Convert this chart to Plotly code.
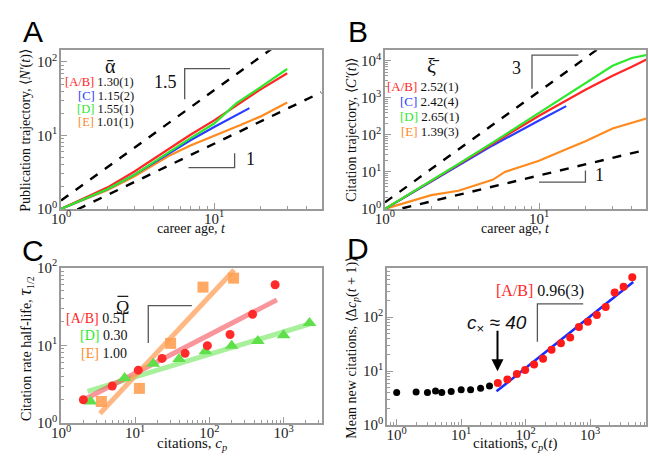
import plotly.graph_objects as go

W, H = 648, 460

def px(x):
    return x / W

def py(y):
    return 1 - y / H

# ---------------- DATA ----------------
# Panel A: publication trajectory
tA_ab = [1, 2, 3, 5, 7, 10, 15, 20, 30]
nA_ab = [1, 1.95, 3.2, 6.5, 10.2, 16, 28, 42, 70]
tA_c = [1, 2, 3, 5, 7, 10, 13, 17]
nA_c = [1, 1.85, 2.9, 5.5, 8.6, 13, 17.5, 23.5]
tA_d = [1, 2, 3, 5, 7, 10, 14, 20, 30]
nA_d = [1, 1.85, 2.9, 5.8, 9.2, 14.5, 27.5, 45, 80]
tA_e = [1, 2, 3, 5, 7, 10, 15, 20, 30]
nA_e = [1, 1.8, 2.75, 5.2, 7.3, 9.8, 14, 18, 28]
guideA_hi_t = [1, 50]
guideA_hi_n = [1.3, 460]
guideA_lo_t = [1, 50]
guideA_lo_n = [0.77, 38.5]
slopeA1_t = [12.7, 6.42, 6.42]
slopeA1_n = [81, 81, 31]
slopeA2_t = [6.8, 13.6, 13.6]
slopeA2_n = [3.65, 3.65, 5.7]

# Panel B: citation trajectory
tB_ab = [1, 2, 3, 5, 10, 20, 30, 40, 50]
cB_ab = [1, 5.7, 16, 58, 330, 1660, 4000, 7000, 11000]
tB_c = [1, 2, 3, 5, 10, 15]
cB_c = [1, 5.5, 15, 52, 245, 600]
tB_d = [1, 2, 3, 5, 10, 20, 30, 40, 50]
cB_d = [1, 5.7, 16.5, 62, 400, 2500, 7400, 12000, 14500]
tB_e = [1, 2, 3, 4, 5, 6, 10, 15, 20, 30, 50]
cB_e = [1, 2.35, 3.1, 4.5, 6.1, 10, 20, 41, 67, 150, 280]
guideB_hi_t = [1, 50]
guideB_hi_c = [1.5, 187500]
guideB_lo_t = [1, 50]
guideB_lo_c = [0.8, 40]
slopeB1_t = [18, 9.0, 9.0]
slopeB1_c = [14300, 14300, 1770]
slopeB2_t = [10, 20, 20]
slopeB2_c = [5.3, 5.3, 11]

# Panel C: citation half-life
cC_ab = [2, 4.9, 11, 23, 47, 94, 190, 382, 770]
tauC_ab = [2, 3, 4.8, 6.8, 7.9, 9.9, 13.8, 25, 60]
cC_d = [2.5, 7.2, 17.5, 39, 88.5, 200, 450, 1000, 2240]
tauC_d = [1.9, 3.8, 5.8, 6.7, 8.4, 9.9, 11.4, 13.5, 19.4]
cC_e = [3.5, 11.4, 30, 82, 212]
tauC_e = [1.9, 2.8, 10.6, 56, 73]
fitC_ab_c = [1.92, 813]
fitC_ab_tau = [1.94, 38.4]
fitC_d_c = [2.28, 2240]
fitC_d_tau = [2.57, 18.8]
fitC_e_c = [3.35, 216]
fitC_e_tau = [1.33, 92.7]
slopeC_c = [58, 15, 15]
slopeC_tau = [32.4, 32.4, 10.7]

# Panel D: preferential attachment
cD_low = [1, 2, 3, 4, 5, 7, 10, 14, 20, 27.5]
dD_low = [4.0, 4.1, 4.0, 4.3, 4.0, 4.2, 4.5, 4.5, 4.8, 5.3]
cD_high = [37, 52, 73, 98, 135, 186, 252, 352, 490, 670, 920, 1270, 1740, 2400, 3300, 4500]
dD_high = [6.0, 7.0, 8.8, 10.5, 13.2, 17, 25, 33, 42, 66, 82, 110, 155, 285, 365, 550]
fitD_c = [35.3, 4656]
fitD_d = [4.22, 447]
slopeD_c = [780, 152, 152]
slopeD_d = [177, 177, 35]

legA = [("[A/B]", "1.30(1)"), ("[C]", "1.15(2)"), ("[D]", "1.55(1)"), ("[E]", "1.01(1)")]
legB = [("[A/B]", "2.52(1)"), ("[C]", "2.42(4)"), ("[D]", "2.65(1)"), ("[E]", "1.39(3)")]
legC = [("[A/B]", "0.51"), ("[D]", "0.30"), ("[E]", "1.00")]

# ---------------- STYLE ----------------
RED = "#ff2626"
BLUE = "#2a3cff"
GREEN = "#2ee82e"
ORANGE = "#ff8a1e"
SERIF = "Liberation Serif, Times New Roman, serif"
SANS = "Liberation Sans, Arial, sans-serif"
AXC = "#9a9a9a"

fig = go.Figure()

def line(x, y, color, xa, ya, width=2.2, dash=None, opacity=1):
    fig.add_trace(go.Scatter(x=x, y=y, mode="lines", xaxis=xa, yaxis=ya,
                             line=dict(color=color, width=width, dash=dash),
                             opacity=opacity, hoverinfo="skip", showlegend=False))

def bracket(x, y, xa, ya):
    fig.add_trace(go.Scatter(x=x, y=y, mode="lines", xaxis=xa, yaxis=ya,
                             line=dict(color="#555555", width=1.3),
                             hoverinfo="skip", showlegend=False))

def markers(x, y, color, symbol, size, xa, ya, opacity=1):
    fig.add_trace(go.Scatter(x=x, y=y, mode="markers", xaxis=xa, yaxis=ya,
                             marker=dict(color=color, symbol=symbol, size=size,
                                         line=dict(width=0)),
                             opacity=opacity, hoverinfo="skip", showlegend=False))

# Panel A
line(guideA_hi_t, guideA_hi_n, "black", "x", "y", width=2.4, dash="dash")
line(guideA_lo_t, guideA_lo_n, "black", "x", "y", width=2.4, dash="dash")
line(tA_e, nA_e, ORANGE, "x", "y")
line(tA_c, nA_c, BLUE, "x", "y")
line(tA_ab, nA_ab, RED, "x", "y")
line(tA_d, nA_d, GREEN, "x", "y")
bracket(slopeA1_t, slopeA1_n, "x", "y")
bracket(slopeA2_t, slopeA2_n, "x", "y")

# Panel B
line(guideB_hi_t, guideB_hi_c, "black", "x2", "y2", width=2.4, dash="dash")
line(guideB_lo_t, guideB_lo_c, "black", "x2", "y2", width=2.4, dash="dash")
line(tB_e, cB_e, ORANGE, "x2", "y2")
line(tB_c, cB_c, BLUE, "x2", "y2")
line(tB_ab, cB_ab, RED, "x2", "y2")
line(tB_d, cB_d, GREEN, "x2", "y2")
bracket(slopeB1_t, slopeB1_c, "x2", "y2")
bracket(slopeB2_t, slopeB2_c, "x2", "y2")

# Panel C
line(fitC_d_c, fitC_d_tau, "rgba(110,230,90,0.6)", "x3", "y3", width=5)
line(fitC_ab_c, fitC_ab_tau, "rgba(245,80,90,0.6)", "x3", "y3", width=5)
line(fitC_e_c, fitC_e_tau, "rgba(255,160,90,0.75)", "x3", "y3", width=5)
markers(cC_d, tauC_d, "#5fe04a", "triangle-up", 12, "x3", "y3")
markers(cC_ab, tauC_ab, "#ff2a2a", "circle", 9, "x3", "y3")
markers(cC_e, tauC_e, "#ffa055", "square", 11, "x3", "y3", opacity=0.9)
bracket(slopeC_c, slopeC_tau, "x3", "y3")

# Panel D
line(fitD_c, fitD_d, "#1a2cff", "x4", "y4", width=2.6)
markers(cD_low, dD_low, "black", "circle", 7, "x4", "y4")
markers(cD_high, dD_high, "#ff1a1a", "circle", 8, "x4", "y4")
bracket(slopeD_c, slopeD_d, "x4", "y4")

# ---------------- AXES ----------------
def sup_labels(exps):
    return [10 ** e for e in exps], ["10<sup>%d</sup>" % e for e in exps]

def minor_vals(lo, hi):
    vals = []
    for e in range(lo, hi):
        for m in range(2, 10):
            vals.append(m * 10 ** e)
    return vals

def axis(domain, rng, exps, mlo, mhi, anchor, standoff):
    tv, tt = sup_labels(exps)
    return dict(type="log", domain=domain, range=rng, anchor=anchor,
                tickvals=tv, ticktext=tt, ticks="inside", ticklen=6,
                tickcolor=AXC, tickwidth=1, showline=True, linecolor=AXC,
                linewidth=1.5, mirror=True, showgrid=False, zeroline=False,
                ticklabelstandoff=standoff,
                tickfont=dict(family=SERIF, size=15, color="#222"),
                minor=dict(tickvals=minor_vals(mlo, mhi), ticks="inside",
                           ticklen=3, tickcolor=AXC, showgrid=False))

XS, YS = -5, -1
fig.update_layout(
    xaxis=axis([px(52), px(318)], [0, 1.705], [0, 1], 0, 2, "y", XS),
    yaxis=axis([py(207), py(42)], [0, 2.157], [0, 1, 2], 0, 3, "x", YS),
    xaxis2=axis([px(382), 1.0], [0, 1.694], [0, 1], 0, 2, "y2", XS),
    yaxis2=axis([py(207), py(42)], [0, 4.286], [0, 1, 2, 3, 4], 0, 5, "x2", YS),
    xaxis3=axis([px(52), px(318)], [0, 3.52], [0, 1, 2, 3], 0, 4, "y3", XS),
    yaxis3=axis([py(430), py(268)], [0, 2.0], [0, 1, 2], 0, 2, "x3", YS),
    xaxis4=axis([px(384), 1.0], [-0.152, 3.866], [0, 1, 2, 3], -1, 4, "y4", XS),
    yaxis4=axis([py(432), py(268)], [0, 2.92], [0, 1, 2], 0, 3, "x4", YS),
)

ann = []

def text(x, y, s, size=13, xanchor="center", family=SERIF, angle=0, color="#111"):
    ann.append(dict(x=px(x), y=py(y), xref="paper", yref="paper", text=s,
                    showarrow=False, xanchor=xanchor, yanchor="middle",
                    textangle=angle, font=dict(family=family, size=size, color=color)))

# Panel letters
text(23, 22, "A", size=30, family=SANS, color="black")
text(355, 22, "B", size=30, family=SANS, color="black")
text(23, 250, "C", size=30, family=SANS, color="black")
text(355, 248, "D", size=30, family=SANS, color="black")

# Axis titles
text(16, 125, "Publication trajectory, ⟨<i>N′</i>(<i>t</i>)⟩", size=14, angle=-90)
text(185, 227, "career age, <i>t</i>", size=14)
text(349, 125, "Citation trajectory, ⟨<i>C′</i>(<i>t</i>)⟩", size=14, angle=-90)
text(515, 227, "career age, <i>t</i>", size=14)
text(16, 352, "Citation rate half-life, <span style='font-size:19px'><i>τ</i></span><sub>1/2</sub>", size=14, angle=-90)
text(185, 452, "citations, <i>c<sub>p</sub></i>", size=15)
text(349, 352, "Mean new citations, ⟨Δ<i>c<sub>p</sub></i>(<i>t</i> + 1)⟩", size=14, angle=-90)
text(515, 452, "citations, <i>c<sub>p</sub></i>(<i>t</i>)", size=15)

# Legends
cols4 = [RED, BLUE, GREEN, ORANGE]
text(102, 58, "ᾱ", size=20)
for i, (lab, val) in enumerate(legA):
    text(128, 75 + 14 * i, "<span style='color:%s'>%s</span> %s" % (cols4[i], lab, val),
         size=12.5, xanchor="right")
text(431, 58, "ξ̄", size=20)
for i, (lab, val) in enumerate(legB):
    text(459, 80 + 15.5 * i, "<span style='color:%s'>%s</span> %s" % (cols4[i], lab, val),
         size=13, xanchor="right")
colsC = [RED, GREEN, ORANGE]
text(115, 310, "Ω", size=18)
for i, (lab, val) in enumerate(legC):
    text(121, 321 + 18 * i, "<span style='color:%s'>%s</span> %s" % (colsC[i], lab, val),
         size=14, xanchor="right")

# Slope labels
text(158, 75, "1.5", size=18)
text(245, 155, "1", size=18)
text(516, 60, "3", size=18)
text(601, 172, "1", size=18)
text(540, 292, "<span style='color:%s'>[A/B]</span> 0.96(3)" % RED, size=16)
text(496, 327, "<i>c</i><sub>×</sub><i> ≈ 40</i>", size=19, family=SANS)

ann.append(dict(x=px(496.7), y=py(376), xref="paper", yref="paper", text="",
                showarrow=True, ax=0, ay=-42, arrowhead=2, arrowsize=1.2,
                arrowwidth=2, arrowcolor="black"))

shapes = [dict(type="line", xref="paper", yref="paper",
               x0=px(109.5), x1=px(120.5), y0=py(298), y1=py(298),
               line=dict(color="#111", width=1.2))]

fig.update_layout(annotations=ann, shapes=shapes, width=W, height=H,
                  margin=dict(l=0, r=0, t=0, b=0),
                  paper_bgcolor="white", plot_bgcolor="white",
                  showlegend=False)

fig.write_html("out.html")
